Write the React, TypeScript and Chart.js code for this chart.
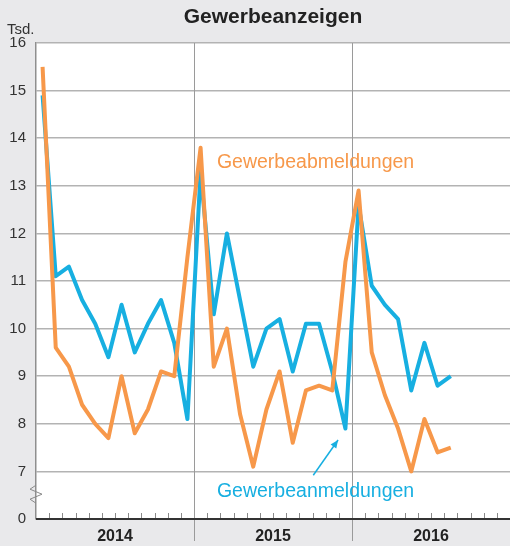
import { useEffect, useRef } from "react";
import { Chart, registerables } from "chart.js";

Chart.register(...registerables);

const title = "Gewerbeanzeigen";
const unitLabel = "Tsd.";
const years = ["2014", "2015", "2016"];
const monthsPerYear = 12;
// Monthly values, Jan 2014 .. Aug 2016 (thousands)
const anmeldungen = [
  14.9, 11.1, 11.3, 10.6, 10.1, 9.4, 10.5, 9.5, 10.1, 10.6, 9.7, 8.1,
  13.3, 10.3, 12.0, 10.6, 9.2, 10.0, 10.2, 9.1, 10.1, 10.1, 9.1, 7.9,
  12.6, 10.9, 10.5, 10.2, 8.7, 9.7, 8.8, 9.0,
];
const abmeldungen = [
  15.5, 9.6, 9.2, 8.4, 8.0, 7.7, 9.0, 7.8, 8.3, 9.1, 9.0, 11.5,
  13.8, 9.2, 10.0, 8.2, 7.1, 8.3, 9.1, 7.6, 8.7, 8.8, 8.7, 11.4,
  12.9, 9.5, 8.6, 7.9, 7.0, 8.1, 7.4, 7.5,
];
const seriesNames = ["Gewerbeabmeldungen", "Gewerbeanmeldungen"];
const yMin = 6; // axis break: bottom tick shown as "0"
const yMax = 16;
const yBreakLabel = "0";

const BLUE = "#17afe1";
const ORANGE = "#f7984a";
const FONT = "'Liberation Sans', Arial, Helvetica, sans-serif";

export default function App() {
  const ref = useRef<HTMLCanvasElement | null>(null);

  useEffect(() => {
    const canvas = ref.current;
    if (!canvas) return;
    const total = years.length * monthsPerYear;

    const deco = {
      id: "deco",
      beforeDraw(chart: any) {
        const { ctx, chartArea: a } = chart;
        ctx.save();
        ctx.fillStyle = "#e9e9eb";
        ctx.fillRect(0, 0, chart.width, chart.height);
        ctx.fillStyle = "#ffffff";
        ctx.fillRect(a.left, a.top, a.right - a.left, a.bottom - a.top);
        ctx.restore();
      },
      beforeDatasetsDraw(chart: any) {
        const { ctx, chartArea: a } = chart;
        const xs = chart.scales.x;
        ctx.save();
        ctx.strokeStyle = "#9a9a9a";
        ctx.lineWidth = 1;
        for (let y = 1; y < years.length; y++) {
          const px = Math.round(xs.getPixelForValue(y * monthsPerYear)) + 0.5;
          ctx.beginPath();
          ctx.moveTo(px, a.top);
          ctx.lineTo(px, a.bottom + 22);
          ctx.stroke();
        }
        ctx.strokeStyle = "#8a8a8a";
        ctx.lineWidth = 1;
        for (let m = 1; m < total; m++) {
          if (m % monthsPerYear === 0) continue;
          const px = Math.round(xs.getPixelForValue(m)) + 0.5;
          ctx.beginPath();
          ctx.moveTo(px, a.bottom - 6);
          ctx.lineTo(px, a.bottom);
          ctx.stroke();
        }
        ctx.restore();
      },
      afterDraw(chart: any) {
        const { ctx, chartArea: a } = chart;
        const xs = chart.scales.x;
        const ys = chart.scales.y;
        ctx.save();
        ctx.strokeStyle = "#333333";
        ctx.lineWidth = 2;
        ctx.beginPath();
        ctx.moveTo(a.left, a.bottom);
        ctx.lineTo(a.right, a.bottom);
        ctx.stroke();
        // axis break zigzag
        const by = (ys.getPixelForValue(7) + ys.getPixelForValue(6)) / 2;
        ctx.strokeStyle = "#8a8a8a";
        ctx.lineWidth = 1;
        ctx.beginPath();
        ctx.moveTo(a.left, by - 10);
        ctx.lineTo(a.left - 6, by - 6);
        ctx.lineTo(a.left + 6, by - 1);
        ctx.lineTo(a.left - 6, by + 4);
        ctx.lineTo(a.left, by + 8);
        ctx.stroke();
        // year labels
        ctx.fillStyle = "#222222";
        ctx.font = `bold 16px ${FONT}`;
        ctx.textAlign = "center";
        ctx.textBaseline = "middle";
        years.forEach((yr, i) => {
          const px = xs.getPixelForValue(i * monthsPerYear + monthsPerYear / 2);
          ctx.fillText(yr, px, a.bottom + 18);
        });
        // title
        ctx.font = `bold 21px ${FONT}`;
        ctx.fillStyle = "#222222";
        ctx.fillText(title, (a.left + a.right) / 2, 17);
        // unit
        ctx.font = `15px ${FONT}`;
        ctx.fillStyle = "#333333";
        ctx.textAlign = "left";
        ctx.fillText(unitLabel, 7, 30);
        // series annotations
        ctx.font = `19.5px ${FONT}`;
        ctx.fillStyle = ORANGE;
        ctx.fillText(seriesNames[0], xs.getPixelForValue(13.74), ys.getPixelForValue(13.48));
        ctx.fillStyle = BLUE;
        ctx.fillText(seriesNames[1], xs.getPixelForValue(13.74), ys.getPixelForValue(6.57));
        // arrow
        const x1 = xs.getPixelForValue(21.06), y1 = ys.getPixelForValue(6.92);
        const x2 = xs.getPixelForValue(22.94), y2 = ys.getPixelForValue(7.66);
        ctx.strokeStyle = BLUE;
        ctx.lineWidth = 1.5;
        ctx.beginPath();
        ctx.moveTo(x1, y1);
        ctx.lineTo(x2, y2);
        ctx.stroke();
        const ang = Math.atan2(y2 - y1, x2 - x1);
        ctx.fillStyle = BLUE;
        ctx.beginPath();
        ctx.moveTo(x2, y2);
        ctx.lineTo(x2 - 8 * Math.cos(ang) + 3.5 * Math.sin(ang), y2 - 8 * Math.sin(ang) - 3.5 * Math.cos(ang));
        ctx.lineTo(x2 - 8 * Math.cos(ang) - 3.5 * Math.sin(ang), y2 - 8 * Math.sin(ang) + 3.5 * Math.cos(ang));
        ctx.closePath();
        ctx.fill();
        ctx.restore();
      },
    };

    const chart = new Chart(canvas, {
      type: "line",
      data: {
        datasets: [
          {
            label: seriesNames[0],
            data: abmeldungen.map((v, i) => ({ x: i + 0.5, y: v })),
            borderColor: ORANGE,
            borderWidth: 4,
            borderJoinStyle: "round",
            pointRadius: 0,
            tension: 0,
          },
          {
            label: seriesNames[1],
            data: anmeldungen.map((v, i) => ({ x: i + 0.5, y: v })),
            borderColor: BLUE,
            borderWidth: 4,
            borderJoinStyle: "round",
            pointRadius: 0,
            tension: 0,
          },
        ],
      },
      options: {
        animation: false,
        responsive: false,
        maintainAspectRatio: false,
        layout: { padding: { top: 43, bottom: 27, left: 0, right: 0 } },
        plugins: { legend: { display: false }, tooltip: { enabled: false }, title: { display: false } },
        scales: {
          x: {
            type: "linear",
            min: 0,
            max: total,
            display: false,
          },
          y: {
            type: "linear",
            min: yMin,
            max: yMax,
            afterFit: (s: any) => {
              s.width = 36;
            },
            ticks: {
              stepSize: 1,
              padding: 10,
              color: "#333333",
              font: { size: 15, family: FONT },
              callback: (v: any) => (v === yMin ? yBreakLabel : String(v)),
            },
            grid: { color: "#b3b3b3", lineWidth: 1.5, drawTicks: false },
            border: { display: true, color: "#8f8f8f", width: 1.5 },
          },
        },
      },
      plugins: [deco],
    });
    return () => chart.destroy();
  }, []);

  return (
    <div style={{ position: "fixed", left: 0, top: 0, width: 510, height: 546 }}>
      <canvas ref={ref} width={510} height={546} style={{ display: "block", width: 510, height: 546 }} />
    </div>
  );
}
